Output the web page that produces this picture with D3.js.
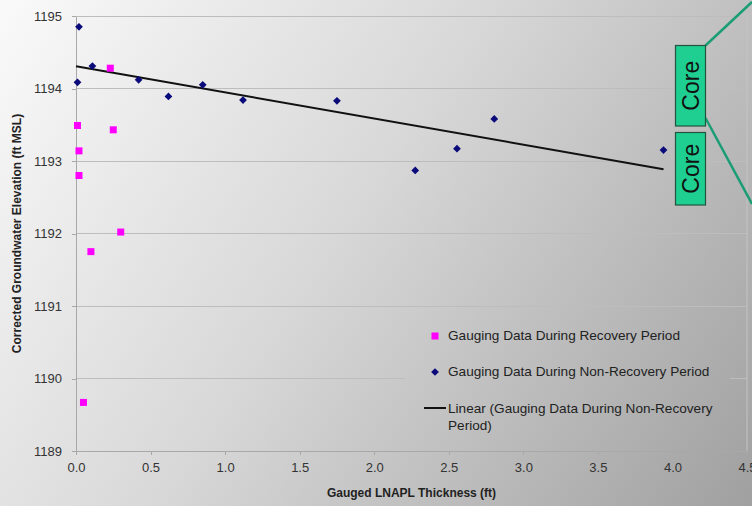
<!DOCTYPE html>
<html>
<head>
<meta charset="utf-8">
<title>Groundwater Elevation vs LNAPL Thickness</title>
<style>
  body { margin: 0; padding: 0; }
  svg { display: block; font-family: Arial, "Liberation Sans", sans-serif; }
  .grid line { stroke: #bdbdbd; stroke-width: 1px; shape-rendering: crispEdges; }
  .axis path, .axis line { stroke: #a8a8a8; shape-rendering: crispEdges; }
  .axis text { fill: #333; font-size: 13px; }
</style>
</head>
<body>
<div id="chart"></div>
<script src="https://d3js.org/d3.v7.min.js"></script>
<script>
// recovery period gauging (magenta squares)
var recX = [0.23, 0.01, 0.25, 0.02, 0.02, 0.30, 0.10, 0.05];
var recY = [1194.28, 1193.49, 1193.43, 1193.14, 1192.80, 1192.02, 1191.75, 1189.67];

// non-recovery period gauging (navy diamonds)
var nonX = [0.02, 0.01, 0.11, 0.42, 0.62, 0.85, 1.12, 1.75, 2.275, 2.555, 2.805, 3.94];
var nonY = [1194.85, 1194.085, 1194.31, 1194.12, 1193.89, 1194.05, 1193.84, 1193.83, 1192.87, 1193.17, 1193.58, 1193.15];

var xTicks = [0, 0.5, 1, 1.5, 2, 2.5, 3, 3.5, 4, 4.5];
var yTicks = [1189, 1190, 1191, 1192, 1193, 1194, 1195];

var legendLabels = ["Gauging Data During Recovery Period",
                    "Gauging Data During Non-Recovery Period",
                    "Linear (Gauging Data During Non-Recovery", "Period)"];

var width = 752, height = 506;
var mLeft = 76, mRight = 747, mTop = 16, mBottom = 451;

var x = d3.scaleLinear().domain([0, 4.5]).range([mLeft, mRight]);
var y = d3.scaleLinear().domain([1189, 1195]).range([mBottom, mTop]);

var svg = d3.select("#chart").append("svg")
    .attr("width", width)
    .attr("height", height);

var defs = svg.append("defs");
var grad = defs.append("linearGradient")
    .attr("id", "bg")
    .attr("gradientUnits", "userSpaceOnUse")
    .attr("x1", 0).attr("y1", 0)
    .attr("x2", width).attr("y2", height);
grad.append("stop").attr("offset", "0%").attr("stop-color", "#fafafa");
grad.append("stop").attr("offset", "45%").attr("stop-color", "#d8d8d8");
grad.append("stop").attr("offset", "100%").attr("stop-color", "#a0a0a0");

svg.append("rect")
    .attr("width", width).attr("height", height)
    .attr("fill", "url(#bg)");

// horizontal gridlines
svg.append("g").attr("class", "grid")
  .selectAll("line")
  .data(yTicks.slice(1))
  .enter().append("line")
    .attr("x1", mLeft).attr("x2", mRight)
    .attr("y1", function(d){ return y(d); })
    .attr("y2", function(d){ return y(d); });

// right border of plot
svg.append("line")
    .attr("x1", mRight).attr("x2", mRight)
    .attr("y1", mTop).attr("y2", mBottom)
    .attr("stroke", "#c4c4c4");

// axes
svg.append("g").attr("class", "axis")
    .attr("transform", "translate(0," + mBottom + ")")
    .call(d3.axisBottom(x).tickValues(xTicks).tickFormat(d3.format(".1f"))
          .tickSize(4).tickSizeOuter(0).tickPadding(8));

svg.append("g").attr("class", "axis")
    .attr("transform", "translate(" + mLeft + ",0)")
    .call(d3.axisLeft(y).tickValues(yTicks).tickFormat(d3.format("d"))
          .tickSize(4).tickSizeOuter(0).tickPadding(10));

svg.selectAll(".axis .domain").attr("stroke", "#b0b0b0");

// axis titles
svg.append("text")
    .attr("x", (mLeft + mRight) / 2)
    .attr("y", 497)
    .attr("text-anchor", "middle")
    .style("font-size", "12px")
    .style("font-weight", "bold")
    .style("fill", "#222")
    .text("Gauged LNAPL Thickness (ft)");

svg.append("text")
    .attr("transform", "translate(21," + ((mTop + mBottom) / 2) + ") rotate(-90)")
    .attr("text-anchor", "middle")
    .style("font-size", "12px")
    .style("font-weight", "bold")
    .style("fill", "#222")
    .text("Corrected Groundwater Elevation (ft MSL)");

// linear trend of the non-recovery data
var mx = d3.mean(nonX), my = d3.mean(nonY);
var sxy = d3.sum(nonX, function(v, i){ return (v - mx) * (nonY[i] - my); });
var sxx = d3.sum(nonX, function(v){ return (v - mx) * (v - mx); });
var slope = sxy / sxx, icept = my - slope * mx;
var trendX = [0, d3.max(nonX)];

svg.append("path")
    .datum(trendX)
    .attr("fill", "none")
    .attr("stroke", "#111")
    .attr("stroke-width", 2)
    .attr("d", d3.line()
        .x(function(d){ return x(d); })
        .y(function(d){ return y(icept + slope * d); }));

// points
var diamond = d3.symbol().type(d3.symbolSquare).size(30);
svg.append("g").selectAll("path")
    .data(nonX)
    .enter().append("path")
    .attr("d", diamond)
    .attr("transform", function(d, i){
        return "translate(" + x(d) + "," + y(nonY[i]) + ") rotate(45)";
    })
    .attr("fill", "#0a0a7a");

svg.append("g").selectAll("rect")
    .data(recX)
    .enter().append("rect")
    .attr("x", function(d){ return x(d) - 3.5; })
    .attr("y", function(d, i){ return y(recY[i]) - 3.5; })
    .attr("width", 7).attr("height", 7)
    .attr("fill", "#ff00ff");

// legend
var lg = svg.append("g");
lg.append("rect")
    .attr("x", 405).attr("y", 313)
    .attr("width", 325).attr("height", 136)
    .attr("fill", "url(#bg)");
lg.append("rect")
    .attr("x", 431.5).attr("y", 332.5)
    .attr("width", 7).attr("height", 7)
    .attr("fill", "#ff00ff");
lg.append("path")
    .attr("d", diamond)
    .attr("transform", "translate(435,372) rotate(45)")
    .attr("fill", "#0a0a7a");
lg.append("line")
    .attr("x1", 424).attr("x2", 446)
    .attr("y1", 408).attr("y2", 408)
    .attr("stroke", "#111").attr("stroke-width", 2);
lg.selectAll("text")
    .data(legendLabels)
    .enter().append("text")
    .attr("x", 448)
    .attr("y", function(d, i){ return [340, 376, 413, 430][i]; })
    .style("font-size", "13.6px")
    .style("fill", "#222")
    .text(function(d){ return d; });

// "Core" callouts
var ann = svg.append("g");
ann.append("line")
    .attr("x1", 705.5).attr("y1", 45.5).attr("x2", 752).attr("y2", 2)
    .attr("stroke", "#1a9d74").attr("stroke-width", 2.5);
ann.append("line")
    .attr("x1", 705.5).attr("y1", 118).attr("x2", 752).attr("y2", 204)
    .attr("stroke", "#1a9d74").attr("stroke-width", 2.5);

var boxes = [{y: 45.5, h: 80.5}, {y: 132.5, h: 72.5}];
boxes.forEach(function(b){
    ann.append("rect")
        .attr("x", 675.5).attr("y", b.y)
        .attr("width", 30).attr("height", b.h)
        .attr("fill", "#1fcf92")
        .attr("stroke", "#22543f").attr("stroke-width", 1.2);
    ann.append("text")
        .attr("transform", "translate(699," + (b.y + b.h / 2) + ") rotate(-90)")
        .attr("text-anchor", "middle")
        .style("font-size", "23px")
        .style("fill", "#111")
        .text("Core");
});
</script>
</body>
</html>
